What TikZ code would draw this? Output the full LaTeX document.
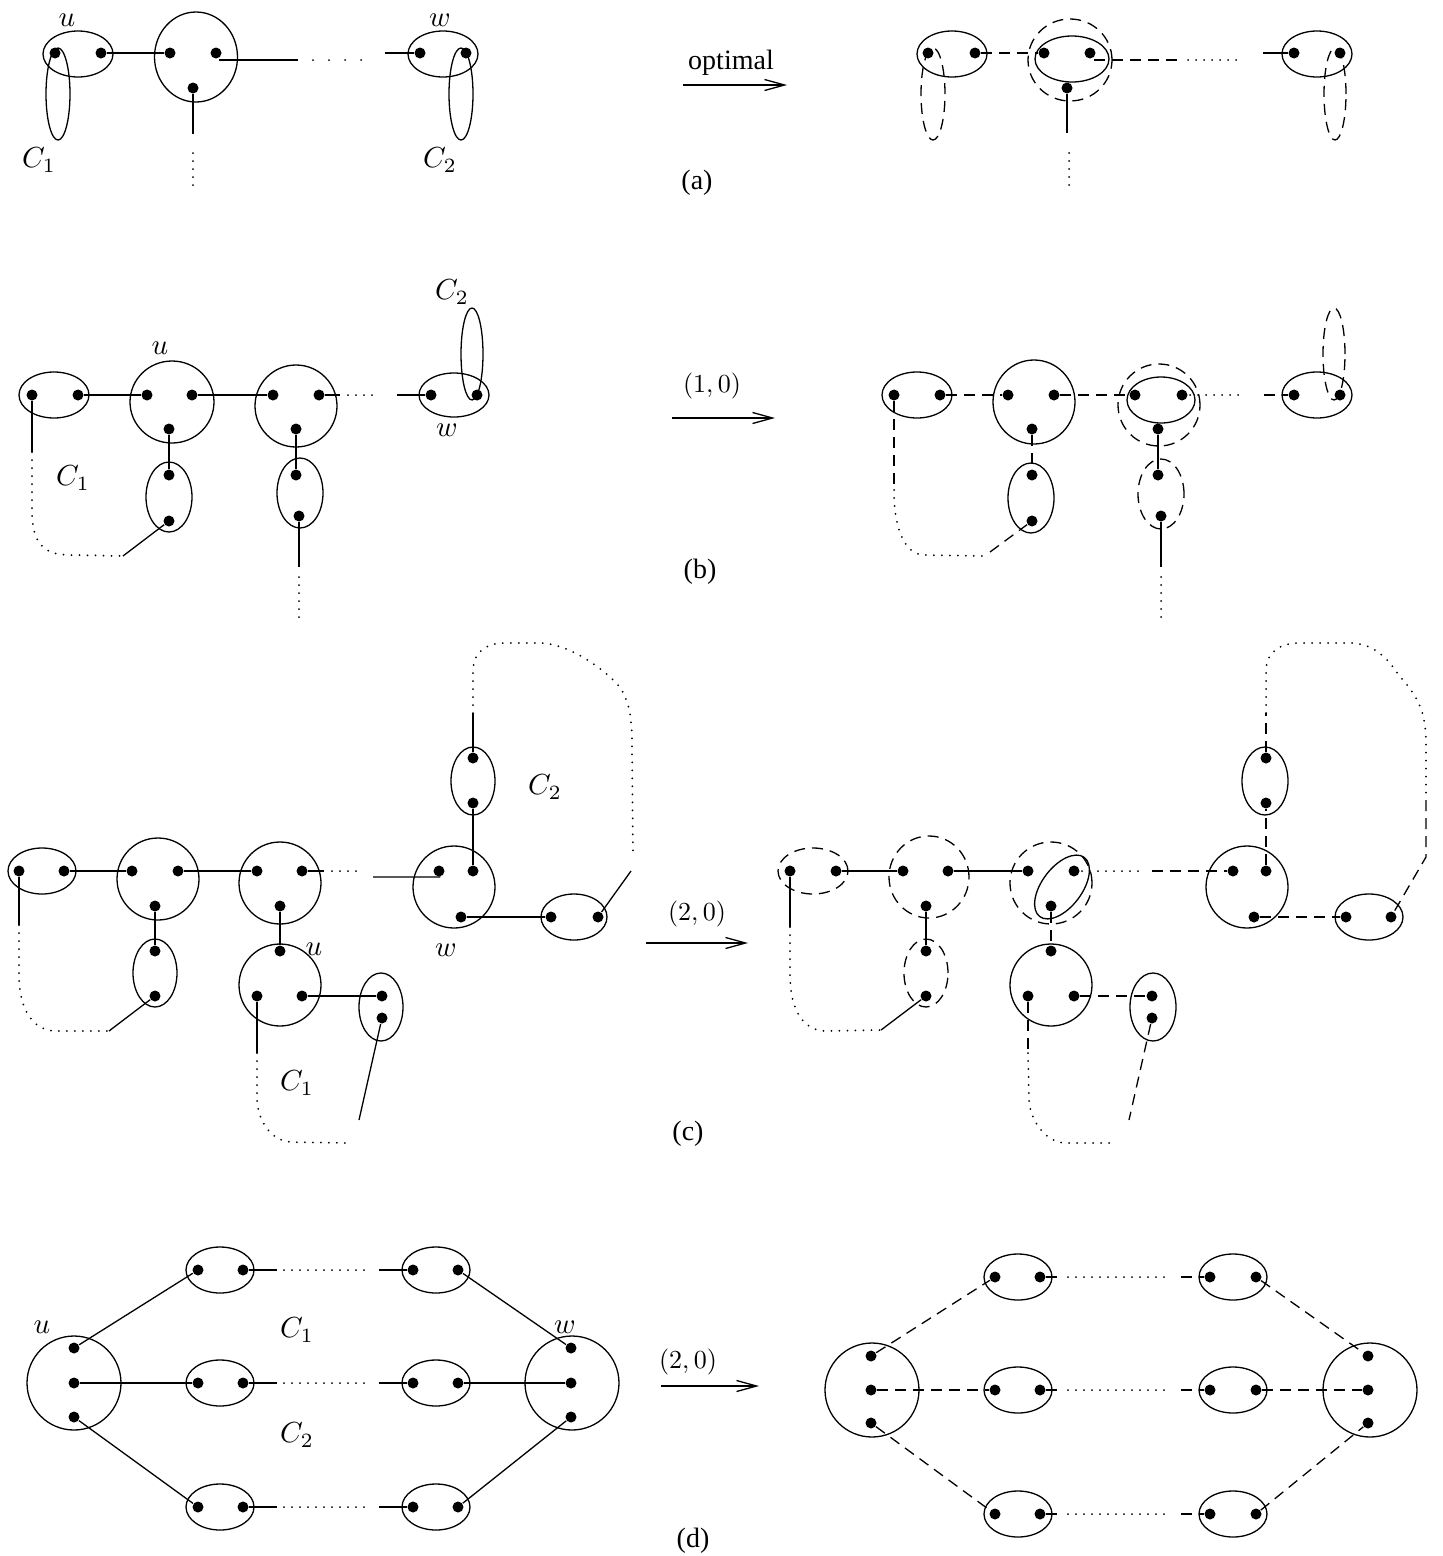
\documentclass[tikz,border=0pt]{standalone}
\usepackage{fontspec}
\newfontfamily\tms{Liberation Serif}
\usetikzlibrary{shapes.geometric,arrows.meta}
\newcommand{\ml}[1]{\scalebox{2.9}{$#1$}}
\newcommand{\al}[1]{\scalebox{2.6}{$#1$}}
\begin{document}
\begin{tikzpicture}[x=1pt,y=-1pt, line width=1.3pt,
  dot/.style={circle,fill=black,inner sep=0pt,minimum size=11pt},
  grp/.style={draw,ellipse,inner sep=0pt,line width=1.3pt},
  sz/.style 2 args={minimum width=#1pt,minimum height=#2pt},
  dgrp/.style={grp,dash pattern=on 11pt off 7pt},
  dsh/.style={dash pattern=on 11pt off 7pt},
  dtd/.style={line cap=round,line width=2pt,dash pattern=on 0pt off 8pt},
  dtdw/.style={line cap=round,line width=2pt,dash pattern=on 0pt off 16pt},
  lab/.style={font=\fontsize{10}{12}\selectfont,inner sep=0pt},
  arlab/.style={font=\fontsize{10}{12}\selectfont,inner sep=0pt},
  txt/.style={font=\tms\fontsize{28}{32}\selectfont},
  arr/.style={-{Straight Barb[length=20pt,width=11pt]}}
]
\useasboundingbox (0,0) rectangle (1443,1556);

% ================= (a) left =================
\node[grp,sz={70}{46}] (aU) at (78,54) {};
\node[grp,sz={24}{92}] (aC1) at (58,94) {};
\node[grp,sz={83}{90}] (aM) at (196,57) {};
\node[grp,sz={70}{46}] (aW) at (443,54) {};
\node[grp,sz={24}{92}] (aC2) at (461,94) {};
\node[dot] (a1) at (55,53) {};
\node[dot] (a2) at (101,53) {};
\node[dot] (a3) at (170,53) {};
\node[dot] (a4) at (216,53) {};
\node[dot] (a5) at (193,88) {};
\node[dot] (a6) at (420,53) {};
\node[dot] (a7) at (466,53) {};
\coordinate (ae1) at (219,60); \coordinate (ae2) at (298,60);
\coordinate (ae3) at (313,60); \coordinate (ae4) at (365,60);
\coordinate (ae5) at (385,53);
\coordinate (ae6) at (193,134); \coordinate (ae7) at (193,153); \coordinate (ae8) at (193,186);
\draw (a2) -- (a3);
\draw (ae1) -- (ae2);
\draw[dtdw] (ae3) -- (ae4);
\draw (ae5) -- (a6);
\draw (a5) -- (ae6);
\draw[dtd] (ae7) -- (ae8);
\node[lab] (laU) at (67,20) {\ml{u}};
\node[lab] (laW) at (440,20) {\ml{w}};
\node[lab] (laC1) at (39,160) {\ml{C_1}};
\node[lab] (laC2) at (440,160) {\ml{C_2}};

% ================= (a) arrow =================
\node[txt] (tOpt) at (731,63) {optimal};
\coordinate (aA1) at (683,85); \coordinate (aA2) at (787,85);
\draw[arr] (aA1) -- (aA2);
\node[txt] (tA) at (697,183) {(a)};

% ================= (a) right =================
\node[grp,sz={70}{46}] (raL) at (952,54) {};
\node[dgrp,sz={24}{92}] (raC1) at (933,94) {};
\node[grp,sz={74}{46}] (raM) at (1072,59) {};
\node[dgrp,sz={84}{82}] (raMo) at (1070,60) {};
\node[grp,sz={70}{46}] (raR) at (1317,54) {};
\node[dgrp,sz={22}{92}] (raC2) at (1335,94) {};
\node[dot] (ra1) at (928,53) {};
\node[dot] (ra2) at (975,53) {};
\node[dot] (ra3) at (1044,53) {};
\node[dot] (ra4) at (1090,53) {};
\node[dot] (ra5) at (1067,88) {};
\node[dot] (ra6) at (1294,53) {};
\node[dot] (ra7) at (1340,53) {};
\coordinate (rae1) at (1094,60); \coordinate (rae2) at (1178,60);
\coordinate (rae3) at (1188,60); \coordinate (rae4) at (1240,60);
\coordinate (rae5) at (1263,53);
\coordinate (rae6) at (1067,133); \coordinate (rae7) at (1069,153); \coordinate (rae8) at (1069,186);
\draw[dsh] (ra2) -- (ra3);
\draw[dsh] (rae1) -- (rae2);
\draw[dtd] (rae3) -- (rae4);
\draw (rae5) -- (ra6);
\draw (ra5) -- (rae6);
\draw[dtd] (rae7) -- (rae8);

% ================= (b) left =================
\node[grp,sz={70}{46}] (bL) at (54,395) {};
\node[grp,sz={84}{82}] (bU) at (172,402) {};
\node[grp,sz={82}{82}] (bM) at (296,406) {};
\node[grp,sz={70}{44}] (bW) at (454,395) {};
\node[grp,sz={22}{92}] (bC2) at (472,354) {};
\node[grp,sz={46}{70}] (bE1) at (169,497) {};
\node[grp,sz={46}{70}] (bE2) at (300,493) {};
\node[dot] (b1) at (32,395) {};
\node[dot] (b2) at (78,395) {};
\node[dot] (b3) at (147,395) {};
\node[dot] (b4) at (192,395) {};
\node[dot] (b5) at (169,429) {};
\node[dot] (b6) at (273,395) {};
\node[dot] (b7) at (319,395) {};
\node[dot] (b8) at (296,429) {};
\node[dot] (b9) at (431,395) {};
\node[dot] (b10) at (477,395) {};
\node[dot] (b11) at (169,475) {};
\node[dot] (b12) at (169,521) {};
\node[dot] (b13) at (296,475) {};
\node[dot] (b14) at (299,516) {};
\coordinate (be1) at (340,395); \coordinate (be2) at (348,395); \coordinate (be3) at (378,395);
\coordinate (be4) at (397,395);
\coordinate (be5) at (299,567); \coordinate (be6) at (299,577); \coordinate (be7) at (299,617);
\coordinate (be8) at (32,452); \coordinate (be9) at (123,556);
\draw (b2) -- (b3);
\draw (b4) -- (b6);
\draw (b7) -- (be1);
\draw[dtd] (be2) -- (be3);
\draw (be4) -- (b9);
\draw (b5) -- (b11);
\draw (b8) -- (b13);
\draw (b14) -- (be5);
\draw[dtd] (be6) -- (be7);
\draw (b1) -- (be8);
\draw[dtd] (be8) -- (32,510) .. controls (32,545) and (45,555) .. (70,555) -- (be9);
\draw (be9) -- (b12);
\node[lab] (lbU) at (160,348) {\ml{u}};
\node[lab] (lbC1) at (73,478) {\ml{C_1}};
\node[lab] (lbC2) at (452,292) {\ml{C_2}};
\node[lab] (lbW) at (447,430) {\ml{w}};

% ================= (b) arrow =================
\node[arlab] (tB10) at (712,386) {\al{(1,0)}};
\coordinate (bA1) at (672,418); \coordinate (bA2) at (775,418);
\draw[arr] (bA1) -- (bA2);
\node[txt] (tB) at (700,572) {(b)};

% ================= (b) right =================
\node[grp,sz={70}{46}] (rbL) at (917,395) {};
\node[grp,sz={82}{84}] (rbU) at (1034,402) {};
\node[grp,sz={46}{70}] (rbE1) at (1031,498) {};
\node[grp,sz={68}{46}] (rbM) at (1161,400) {};
\node[dgrp,sz={82}{82}] (rbMo) at (1159,405) {};
\node[dgrp,sz={46}{70}] (rbE2) at (1161,494) {};
\node[grp,sz={70}{46}] (rbW) at (1317,395) {};
\node[dgrp,sz={22}{92}] (rbC2) at (1334,354) {};
\node[dot] (rb1) at (894,395) {};
\node[dot] (rb2) at (940,395) {};
\node[dot] (rb3) at (1008,395) {};
\node[dot] (rb4) at (1054,395) {};
\node[dot] (rb5) at (1032,429) {};
\node[dot] (rb6) at (1032,475) {};
\node[dot] (rb7) at (1032,521) {};
\node[dot] (rb8) at (1135,395) {};
\node[dot] (rb9) at (1182,395) {};
\node[dot] (rb10) at (1158,429) {};
\node[dot] (rb11) at (1158,475) {};
\node[dot] (rb12) at (1161,516) {};
\node[dot] (rb13) at (1294,395) {};
\node[dot] (rb14) at (1340,395) {};
\coordinate (rbe1) at (1190,395); \coordinate (rbe2) at (1240,395); \coordinate (rbe3) at (1264,395);
\coordinate (rbe4) at (1161,567); \coordinate (rbe5) at (1161,577); \coordinate (rbe6) at (1161,617);
\coordinate (rbe7) at (894,490); \coordinate (rbe8) at (990,552);
\draw[dsh] (rb2) -- (rb3);
\draw[dsh] (rb4) -- (rb8);
\draw[dsh] (rb5) -- (rb6);
\draw (rb10) -- (rb11);
\draw (rb12) -- (rbe4);
\draw[dtd] (rbe5) -- (rbe6);
\draw[dtd] (rbe1) -- (rbe2);
\draw[dsh] (rbe3) -- (rb13);
\draw[dsh] (rb1) -- (rbe7);
\draw[dtd] (rbe7) .. controls (894,530) and (905,555) .. (925,555) -- (982,556);
\draw[dsh] (rbe8) -- (rb7);

% ================= (c) left =================
\node[grp,sz={68}{46}] (cL) at (42,871) {};
\node[grp,sz={82}{82}] (cA) at (158,879) {};
\node[grp,sz={44}{68}] (cE1) at (155,973) {};
\node[grp,sz={82}{82}] (cB) at (280,883) {};
\node[grp,sz={82}{82}] (cU) at (280,985) {};
\node[grp,sz={44}{68}] (cE2) at (381,1007) {};
\node[grp,sz={82}{82}] (cW) at (454,887) {};
\node[grp,sz={44}{68}] (cE3) at (473,781) {};
\node[grp,sz={66}{46}] (cR) at (574,917) {};
\node[dot] (c1) at (19,871) {};
\node[dot] (c2) at (64,871) {};
\node[dot] (c3) at (132,871) {};
\node[dot] (c4) at (178,871) {};
\node[dot] (c5) at (155,906) {};
\node[dot] (c6) at (155,951) {};
\node[dot] (c7) at (155,996) {};
\node[dot] (c8) at (257,871) {};
\node[dot] (c9) at (302,871) {};
\node[dot] (c10) at (280,906) {};
\node[dot] (c11) at (280,951) {};
\node[dot] (c12) at (257,996) {};
\node[dot] (c13) at (302,996) {};
\node[dot] (c14) at (382,996) {};
\node[dot] (c15) at (382,1018) {};
\node[dot] (c16) at (439,871) {};
\node[dot] (c17) at (473,871) {};
\node[dot] (c18) at (461,917) {};
\node[dot] (c19) at (473,758) {};
\node[dot] (c20) at (473,803) {};
\node[dot] (c21) at (551,917) {};
\node[dot] (c22) at (598,917) {};
\coordinate (ce1) at (324,871); \coordinate (ce2) at (332,871); \coordinate (ce3) at (358,871);
\coordinate (ce4) at (373,877); \coordinate (ce5) at (440,877);
\coordinate (ce6) at (359,1120);
\coordinate (ce7) at (19,925); \coordinate (ce8) at (109,1031);
\coordinate (ce9) at (257,1053);
\coordinate (ce10) at (473,713); \coordinate (ce11) at (633,857); \coordinate (ce12) at (631,871);
\draw (c2) -- (c3);
\draw (c4) -- (c8);
\draw (c9) -- (ce1);
\draw[dtd] (ce2) -- (ce3);
\draw (ce4) -- (ce5) -- (c16);
\draw (c5) -- (c6);
\draw (c10) -- (c11);
\draw (c13) -- (c14);
\draw (c15) -- (ce6);
\draw (c1) -- (ce7);
\draw[dtd] (ce7) -- (19,975) .. controls (19,1005) and (30,1030) .. (55,1031) -- (ce8);
\draw (ce8) -- (c7);
\draw (c12) -- (ce9);
\draw[dtd] (ce9) -- (257,1100) .. controls (258,1120) and (270,1140) .. (290,1142) -- (345,1143);
\draw (c17) -- (c20);
\draw (c19) -- (ce10);
\draw[dtd] (ce10) -- (473,670) .. controls (474,650) and (488,643) .. (505,643) -- (540,643)
  .. controls (565,643) and (600,665) .. (618,685) .. controls (630,700) and (632,720) .. (632,745) -- (ce11);
\draw (ce12) -- (c22);
\draw (c18) -- (c21);
\node[lab] (lcU) at (314,949) {\ml{u}};
\node[lab] (lcW) at (446,950) {\ml{w}};
\node[lab] (lcC1) at (297,1083) {\ml{C_1}};
\node[lab] (lcC2) at (545,787) {\ml{C_2}};

% ================= (c) arrow =================
\node[arlab] (tC20) at (697,914) {\al{(2,0)}};
\coordinate (cA1) at (646,943); \coordinate (cA2) at (748,943);
\draw[arr] (cA1) -- (cA2);
\node[txt] (tC) at (688,1134) {(c)};

% ================= (c) right =================
\node[dgrp,sz={70}{46}] (rcL) at (813,871) {};
\node[dgrp,sz={80}{82}] (rcA) at (929,877) {};
\node[dgrp,sz={44}{68}] (rcE1) at (926,973) {};
\node[dgrp,sz={82}{82}] (rcB) at (1051,883) {};
\node[grp,sz={74}{40},rotate=53] (rcT) at (1062,887) {};
\node[grp,sz={82}{82}] (rcU) at (1051,985) {};
\node[grp,sz={46}{68}] (rcE2) at (1153,1007) {};
\node[grp,sz={82}{82}] (rcW) at (1247,887) {};
\node[grp,sz={46}{68}] (rcE3) at (1265,781) {};
\node[grp,sz={68}{46}] (rcR) at (1369,917) {};
\node[dot] (rc1) at (790,871) {};
\node[dot] (rc2) at (836,871) {};
\node[dot] (rc3) at (903,871) {};
\node[dot] (rc4) at (948,871) {};
\node[dot] (rc5) at (926,906) {};
\node[dot] (rc6) at (926,951) {};
\node[dot] (rc7) at (926,996) {};
\node[dot] (rc8) at (1028,871) {};
\node[dot] (rc9) at (1074,871) {};
\node[dot] (rc10) at (1051,906) {};
\node[dot] (rc11) at (1051,951) {};
\node[dot] (rc12) at (1028,996) {};
\node[dot] (rc13) at (1074,996) {};
\node[dot] (rc14) at (1152,996) {};
\node[dot] (rc15) at (1152,1018) {};
\node[dot] (rc16) at (1233,871) {};
\node[dot] (rc17) at (1266,871) {};
\node[dot] (rc18) at (1254,917) {};
\node[dot] (rc19) at (1266,758) {};
\node[dot] (rc20) at (1266,803) {};
\node[dot] (rc21) at (1346,917) {};
\node[dot] (rc22) at (1391,917) {};
\coordinate (rce1) at (1082,871); \coordinate (rce2) at (1145,871); \coordinate (rce3) at (1152,871);
\coordinate (rce4) at (1129,1120);
\coordinate (rce5) at (790,927); \coordinate (rce6) at (881,1030);
\coordinate (rce7) at (1028,1053);
\coordinate (rce8) at (1266,713); \coordinate (rce9) at (1426,857);
\draw (rc2) -- (rc3);
\draw (rc4) -- (rc8);
\draw[dtd] (rce1) -- (rce2);
\draw[dsh] (rce3) -- (rc16);
\draw (rc5) -- (rc6);
\draw[dsh] (rc10) -- (rc11);
\draw[dsh] (rc13) -- (rc14);
\draw[dsh] (rc15) -- (rce4);
\draw (rc1) -- (rce5);
\draw[dtd] (rce5) -- (790,975) .. controls (790,1005) and (800,1030) .. (825,1031) -- (rce6);
\draw (rce6) -- (rc7);
\draw[dsh] (rc12) -- (rce7);
\draw[dtd] (rce7) -- (1029,1100) .. controls (1030,1120) and (1045,1142) .. (1065,1143) -- (1116,1143);
\draw[dsh] (rc17) -- (rc20);
\draw[dsh] (rc19) -- (rce8);
\draw[dtd] (rce8) -- (1266,670) .. controls (1267,650) and (1282,643) .. (1300,643) -- (1350,643)
  .. controls (1370,643) and (1385,655) .. (1395,670) .. controls (1410,690) and (1425,700) .. (1426,740) -- (1426,800);
\draw[dsh] (1426,800) -- (rce9) -- (rc22);
\draw[dsh] (rc18) -- (rc21);

% ================= (d) left =================
\node[grp,sz={94}{94}] (dU) at (74,1383) {};
\node[grp,sz={94}{94}] (dW) at (572,1383) {};
\node[dot] (du1) at (74,1348) {};
\node[dot] (du2) at (74,1383) {};
\node[dot] (du3) at (74,1417) {};
\node[dot] (dw1) at (571,1348) {};
\node[dot] (dw2) at (571,1383) {};
\node[dot] (dw3) at (571,1417) {};
\foreach \i/\y in {1/1270,2/1383,3/1507}{
  \node[grp,sz={68}{46}] (dL\i) at (220,\y) {};
  \node[grp,sz={68}{46}] (dR\i) at (436,\y) {};
  \node[dot] (dla\i) at (198,\y) {};
  \node[dot] (dlb\i) at (243,\y) {};
  \node[dot] (dra\i) at (413,\y) {};
  \node[dot] (drb\i) at (458,\y) {};
  \coordinate (dh1\i) at (277,\y); \coordinate (dh2\i) at (284,\y);
  \coordinate (dh3\i) at (370,\y); \coordinate (dh4\i) at (379,\y);
  \draw (dlb\i) -- (dh1\i);
  \draw[dtd] (dh2\i) -- (dh3\i);
  \draw (dh4\i) -- (dra\i);
}
\draw (du1) -- (dla1);
\draw (du2) -- (dla2);
\draw (du3) -- (dla3);
\draw (drb1) -- (dw1);
\draw (drb2) -- (dw2);
\draw (drb3) -- (dw3);
\node[lab] (ldU) at (42,1327) {\ml{u}};
\node[lab] (ldW) at (565,1327) {\ml{w}};
\node[lab] (ldC1) at (297,1330) {\ml{C_1}};
\node[lab] (ldC2) at (297,1435) {\ml{C_2}};

% ================= (d) arrow =================
\node[arlab] (tD20) at (688,1362) {\al{(2,0)}};
\coordinate (dA1) at (661,1386); \coordinate (dA2) at (759,1386);
\draw[arr] (dA1) -- (dA2);
\node[txt] (tD) at (693,1541) {(d)};

% ================= (d) right =================
\node[grp,sz={94}{94}] (rdU) at (872,1390) {};
\node[grp,sz={94}{94}] (rdW) at (1370,1390) {};
\node[dot] (rdu1) at (871,1356) {};
\node[dot] (rdu2) at (871,1390) {};
\node[dot] (rdu3) at (871,1423) {};
\node[dot] (rdw1) at (1368,1356) {};
\node[dot] (rdw2) at (1368,1390) {};
\node[dot] (rdw3) at (1368,1423) {};
\foreach \i/\y in {1/1277,2/1390,3/1514}{
  \node[grp,sz={68}{46}] (rdL\i) at (1018,\y) {};
  \node[grp,sz={68}{46}] (rdR\i) at (1233,\y) {};
  \node[dot] (rdla\i) at (995,\y) {};
  \node[dot] (rdlb\i) at (1040,\y) {};
  \node[dot] (rdra\i) at (1210,\y) {};
  \node[dot] (rdrb\i) at (1256,\y) {};
  \coordinate (rdh1\i) at (1060,\y); \coordinate (rdh2\i) at (1068,\y);
  \coordinate (rdh3\i) at (1167,\y); \coordinate (rdh4\i) at (1181,\y);
  \draw[dsh] (rdlb\i) -- (rdh1\i);
  \draw[dtd] (rdh2\i) -- (rdh3\i);
  \draw[dsh] (rdh4\i) -- (rdra\i);
}
\draw[dsh] (rdu1) -- (rdla1);
\draw[dsh] (rdu2) -- (rdla2);
\draw[dsh] (rdu3) -- (rdla3);
\draw[dsh] (rdrb1) -- (rdw1);
\draw[dsh] (rdrb2) -- (rdw2);
\draw[dsh] (rdrb3) -- (rdw3);
\end{tikzpicture}
\end{document}
